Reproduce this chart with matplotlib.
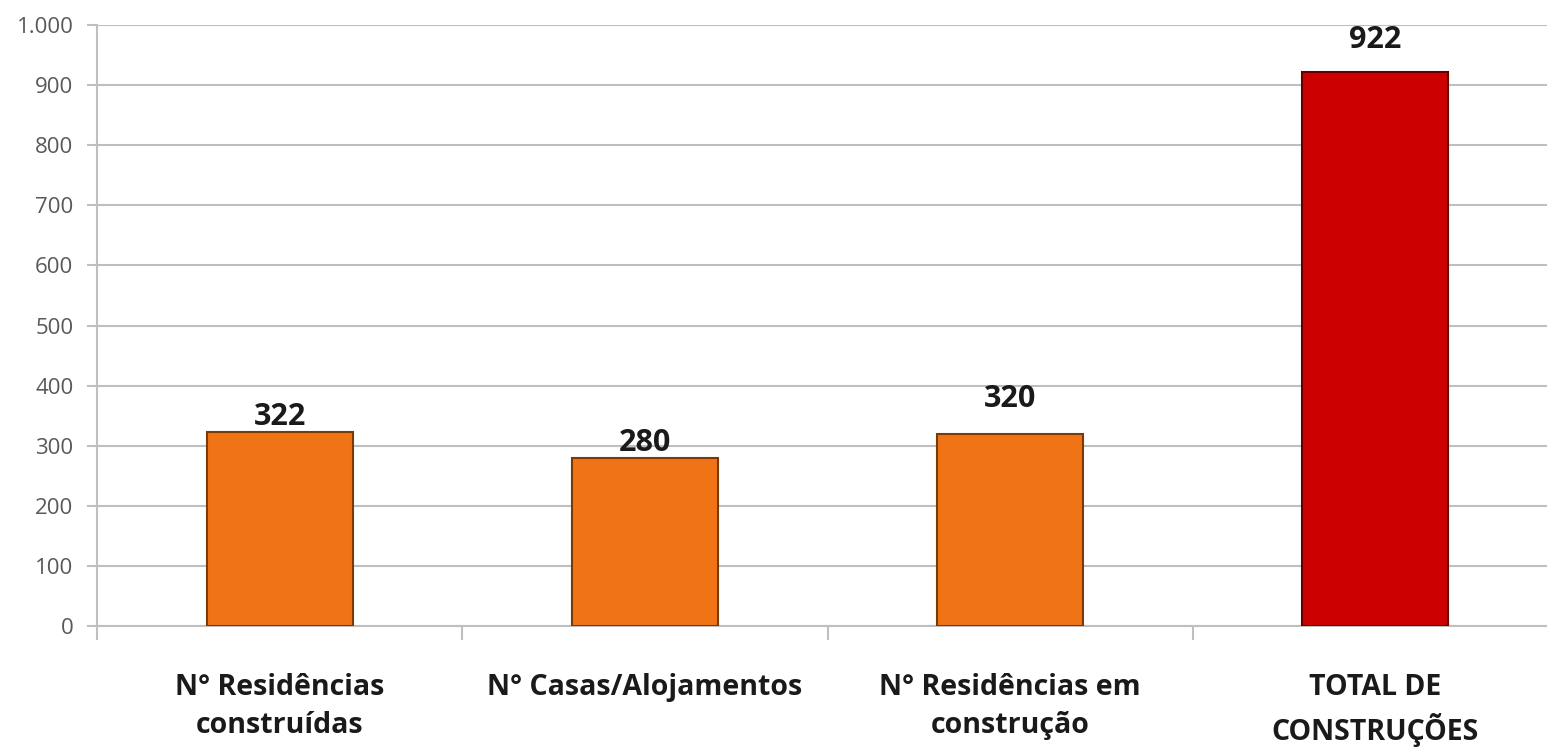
import numpy as np
import matplotlib.pyplot as plt
from matplotlib.ticker import FuncFormatter

categories = ["N° Residências\nconstruídas", "N° Casas/Alojamentos",
              "N° Residências em\nconstrução", "TOTAL DE\nCONSTRUÇÕES"]
values = [322, 280, 320, 922]
colors = ["#F07415", "#F07415", "#F07415", "#CC0000"]
edges = ["#7A3A08", "#7A3A08", "#7A3A08", "#660000"]
label_offsets = [0, 0, 14, 12]

plt.rcParams['font.family'] = ['Open Sans', 'DejaVu Sans']

fig = plt.figure(figsize=(15.47, 7.49), dpi=100)
ax = fig.add_axes([97/1547, 1-626/749, 1461/1547, 601/749])

x = np.arange(len(values))
bars = ax.bar(x, values, width=0.4, color=colors, edgecolor=edges, linewidth=1.5, zorder=3)

for b, v, off in zip(bars, values, label_offsets):
    ax.annotate(str(v), (b.get_x() + b.get_width()/2, v), xytext=(0, off),
                textcoords="offset points", ha="center", va="bottom",
                fontsize=22, fontweight="bold", color="#1a1a1a")

ax.set_xlim(-0.5, 3.5)
ax.set_ylim(0, 1000)
ax.set_yticks(range(0, 1001, 100))
ax.yaxis.set_major_formatter(FuncFormatter(lambda v, p: f"{int(v):,}".replace(",", ".")))
ax.tick_params(axis="y", labelsize=16, colors="#595959", length=7, width=1.5, pad=10)
ax.tick_params(axis="y", color="#BFBFBF")
ax.yaxis.grid(True, color="#BFBFBF", linewidth=1.5, zorder=0)

ax.set_xticks(np.arange(-0.5, 3.6, 1.0))
ax.set_xticklabels([])
ax.set_xticks(x, minor=True)
ax.set_xticklabels(categories, minor=True, fontsize=20.5, fontweight="bold", color="#1a1a1a",
                   linespacing=1.4)
ax.tick_params(axis="x", which="major", length=10, width=1.5, color="#BFBFBF", direction="out")
ax.tick_params(axis="x", which="minor", length=0, pad=34)

for s in ["top", "right"]:
    ax.spines[s].set_visible(False)
ax.spines["left"].set_color("#BFBFBF")
ax.spines["left"].set_linewidth(1.5)
ax.spines["bottom"].set_color("#BFBFBF")
ax.spines["bottom"].set_linewidth(1.5)

fig.savefig("out.png", dpi=100)
